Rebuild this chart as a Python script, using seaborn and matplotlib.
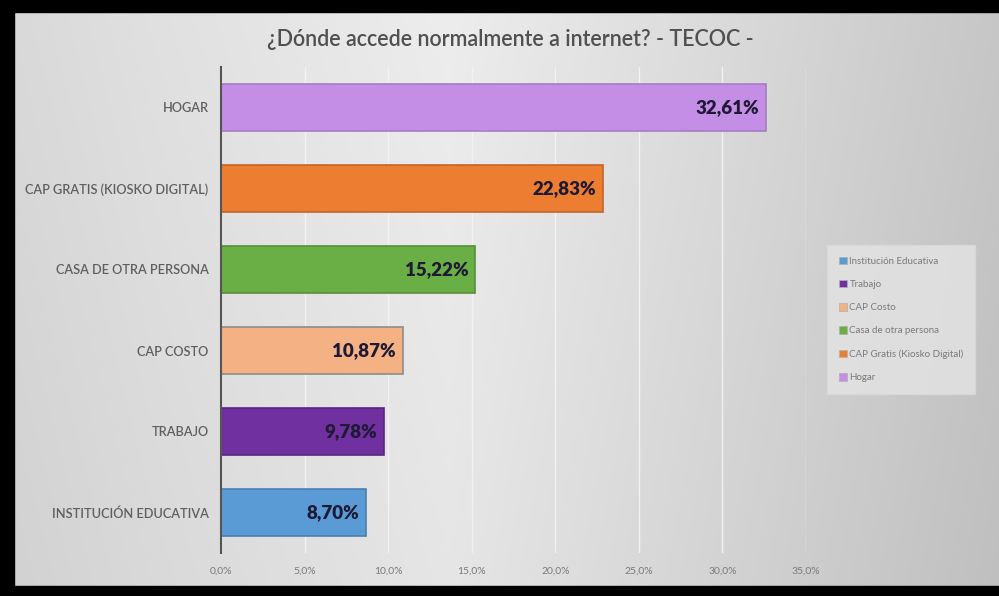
import numpy as np
import pandas as pd
import matplotlib
matplotlib.use("Agg")
import matplotlib.pyplot as plt
import matplotlib.patches as mpatches
import seaborn as sns

# Data
categories = ["HOGAR", "CAP GRATIS (KIOSKO DIGITAL)", "CASA DE OTRA PERSONA",
              "CAP COSTO", "TRABAJO", "INSTITUCIÓN EDUCATIVA"]
values = [32.61, 22.83, 15.22, 10.87, 9.78, 8.70]
legend_labels = ["Institución Educativa", "Trabajo", "CAP Costo",
                 "Casa de otra persona", "CAP Gratis (Kiosko Digital)", "Hogar"]
bar_colors = ["#c48de6", "#ed7d31", "#6aaf45", "#f4b183", "#7030a0", "#5b9bd5"]
edge_colors = ["#a77cc4", "#c0662a", "#568f38", "#8c8c8c", "#5a2684", "#4a7fb0"]
x_ticks = [0, 5, 10, 15, 20, 25, 30, 35]

df = pd.DataFrame({"lugar": categories, "pct": values})
palette = dict(zip(categories, bar_colors))

sns.set_theme(style="white")
plt.rcParams["font.family"] = ["Lato", "DejaVu Sans"]

W, H = 999, 596
fig = plt.figure(figsize=(W / 100, H / 100), dpi=100)

# Gray gradient background with dark frame
bg = fig.add_axes([0, 0, 1, 1], zorder=0)
xs = np.linspace(0, 1, 400)
ys = np.linspace(0, 1, 200)
X, Y = np.meshgrid(xs, ys)
lum = np.interp(X, [0.0, 0.15, 0.45, 0.75, 1.0], [0.85, 0.88, 0.93, 0.85, 0.78])
lum = lum - 0.03 * Y
img = np.dstack([lum, lum, lum])
bg.imshow(img, extent=[0, W, 0, H], aspect="auto", origin="upper")
bg.add_patch(mpatches.Rectangle((0, H - 12), W, 12, color="black"))
bg.add_patch(mpatches.Rectangle((0, 0), W, 10, color="black"))
bg.add_patch(mpatches.Rectangle((0, 0), 14, H, color="black"))
bg.set_xlim(0, W)
bg.set_ylim(0, H)
bg.axis("off")

ax = fig.add_axes([221 / W, 1 - 553 / H, (806 - 221) / W, (553 - 67) / H], zorder=1)
ax.set_facecolor("none")

sns.barplot(data=df, y="lugar", x="pct", hue="lugar", palette=palette,
            order=categories, hue_order=categories, orient="h",
            width=0.59, legend=False, ax=ax, saturation=1)

for patch, ec in zip(ax.patches, edge_colors):
    patch.set_edgecolor(ec)
    patch.set_linewidth(1.2)

# Value labels inside bar ends
for patch, v in zip(ax.patches, values):
    y = patch.get_y() + patch.get_height() / 2
    ax.annotate(f"{v:.2f}%".replace(".", ","), xy=(patch.get_width(), y),
                xytext=(-5, 0), textcoords="offset points",
                ha="right", va="center", fontsize=13.5, fontweight="heavy",
                color="#1e1a35")

ax.set_xlim(0, 35)
ax.set_xticks(x_ticks)
ax.set_xticklabels([f"{t:.1f}%".replace(".", ",") for t in x_ticks],
                   fontsize=7.5, color="#7a7a7a")
ax.tick_params(axis="x", length=0, pad=10)
ax.tick_params(axis="y", length=0, pad=9)
for lbl in ax.get_yticklabels():
    lbl.set_fontsize(9.2)
    lbl.set_fontweight("semibold")
    lbl.set_color("#5f5f5f")
ax.set_xlabel("")
ax.set_ylabel("")
ax.grid(axis="x", color="#f2f2f2", linewidth=1)
ax.set_axisbelow(True)
for s in ["top", "right", "bottom"]:
    ax.spines[s].set_visible(False)
ax.spines["left"].set_color("#555555")
ax.spines["left"].set_linewidth(1.5)

fig.text(510 / W, 1 - 40 / H, "¿Dónde accede normalmente a internet? - TECOC -",
         ha="center", va="center", fontsize=15.5, fontweight="semibold",
         color="#505050")

handles = [mpatches.Patch(facecolor=c, edgecolor="#b0b0b0", linewidth=0.5)
           for c in bar_colors[::-1]]
leg = fig.legend(handles, legend_labels, loc="upper left",
                 bbox_to_anchor=(830 / W, 1 - 248 / H), fontsize=7,
                 frameon=True, handlelength=0.8, handleheight=0.8,
                 handletextpad=0.3, labelspacing=1.45, borderpad=0.9,
                 borderaxespad=0)
leg.get_frame().set_facecolor("#e4e4e4")
leg.get_frame().set_edgecolor("#dadada")
leg.get_frame().set_boxstyle("square")
for t in leg.get_texts():
    t.set_color("#7a7a7a")

fig.savefig("out.png", dpi=100)
